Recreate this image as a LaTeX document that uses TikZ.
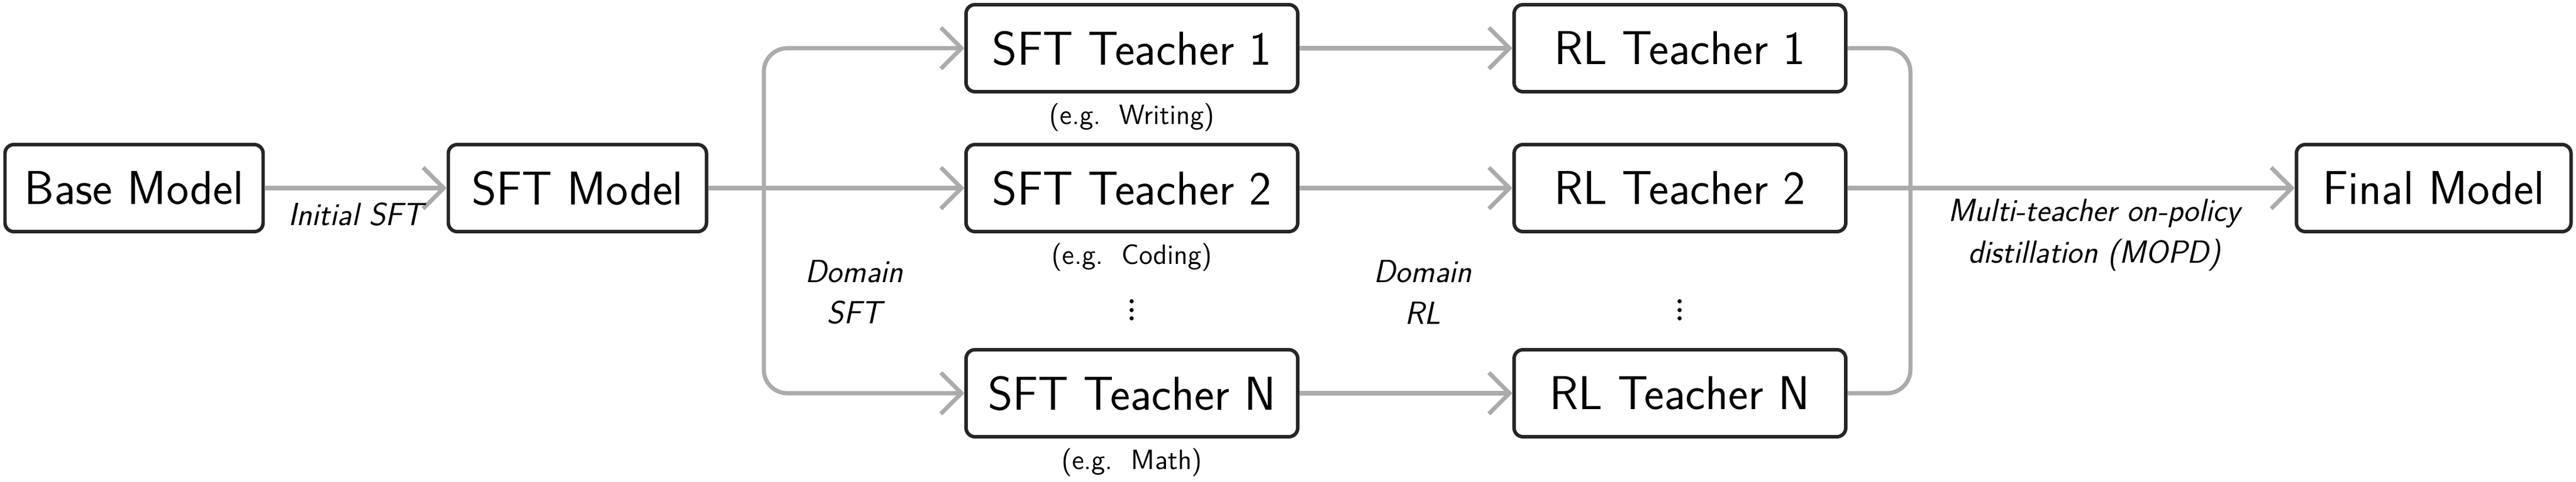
\documentclass[tikz,border=0pt]{standalone}
\usetikzlibrary{positioning,arrows.meta}
\begin{document}
\begin{tikzpicture}[
            stage/.style={rectangle, rounded corners=1.5mm, draw=black!85, line width=1.7pt, minimum height=14.8mm, font=\sffamily\fontsize{23}{27}\selectfont},
            flow/.style={draw=black!33, line width=2pt, -{Straight Barb[length=3.5mm,width=7mm,line width=2pt]}},
            note/.style={font=\sffamily\fontsize{13.5}{16}\selectfont},
            phase/.style={font=\sffamily\itshape\fontsize{15.5}{20}\selectfont, align=center},
        ]
        \useasboundingbox (0,0) rectangle (43.81,-8.2);
        \node[stage, minimum width=43.9mm] (base)  at (2.28,-3.2)  {Base Model};
        \node[stage, minimum width=43.9mm] (sft)   at (9.82,-3.2)  {SFT Model};
        \node[stage, minimum width=56.4mm] (sftA)  at (19.25,-0.82) {SFT Teacher 1};
        \node[stage, minimum width=56.4mm] (sftB)  at (19.25,-3.2)  {SFT Teacher 2};
        \node[stage, minimum width=56.4mm] (sftN)  at (19.25,-6.69) {SFT Teacher N};
        \node[stage, minimum width=56.4mm] (rlA)   at (28.57,-0.82) {RL Teacher 1};
        \node[stage, minimum width=56.4mm] (rlB)   at (28.57,-3.2)  {RL Teacher 2};
        \node[stage, minimum width=56.4mm] (rlN)   at (28.57,-6.69) {RL Teacher N};
        \node[stage, minimum width=46.7mm] (final) at (41.39,-3.2)  {Final Model};
        \node[note] (exA) [below = 0.5mm of sftA] {(e.g.~~Writing)};
        \node[note] (exB) [below = 0.5mm of sftB] {(e.g.~~Coding)};
        \node[note] (exN) [below = 0.5mm of sftN] {(e.g.~~Math)};
        \node[font=\fontsize{24}{28}\selectfont] (dotsS) at (19.25,-5.17) {$\vdots$};
        \node[font=\fontsize{24}{28}\selectfont] (dotsR) at (28.57,-5.17) {$\vdots$};
        \coordinate (split) at (12.99,-3.2);
        \coordinate (merge) at (32.49,-3.2);
        \draw[flow] (base.east) -- node[phase, below=1mm] {Initial SFT} (sft.west);
        \draw[flow] (sft.east) -- (sftB.west);
        \draw[flow, rounded corners=4mm] (split) |- (sftA.west);
        \draw[flow, rounded corners=4mm] (split) |- (sftN.west);
        \draw[flow] (sftA.east) -- (rlA.west);
        \draw[flow] (sftB.east) -- (rlB.west);
        \draw[flow] (sftN.east) -- (rlN.west);
        \draw[draw=black!33, line width=2pt, rounded corners=4mm] (rlA.east) -| (merge) |- (rlN.east);
        \draw[flow] (rlB.east) -- (final.west);
        \node[phase] (domS) at (14.53,-4.97) {Domain\\SFT};
        \node[phase] (domR) at (24.2,-4.97)  {Domain\\RL};
        \node[phase] (mopd) at (35.62,-4.0)  {Multi-teacher on-policy\\distillation (MOPD)};
    \end{tikzpicture}
\end{document}
